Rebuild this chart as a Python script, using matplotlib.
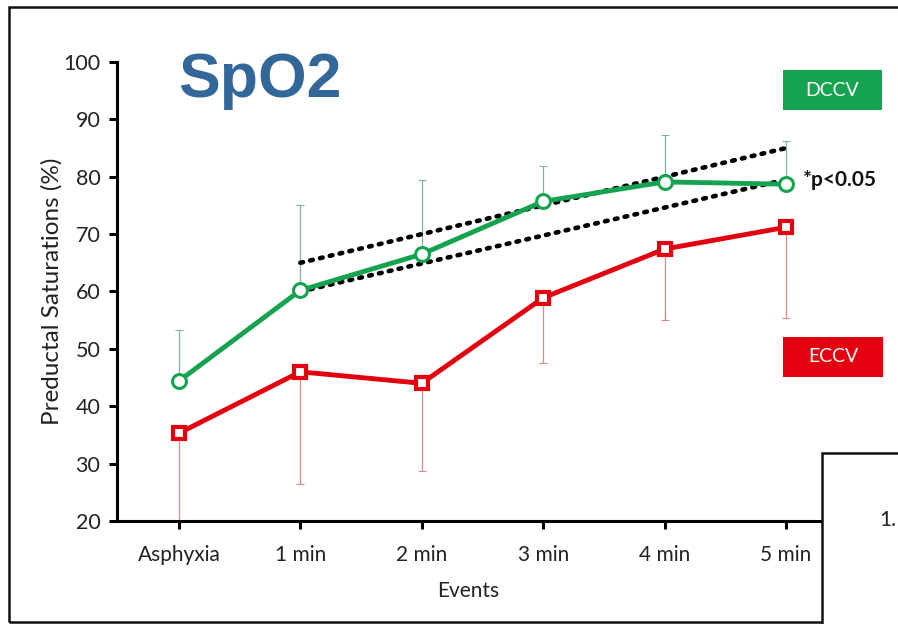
import matplotlib
matplotlib.use("Agg")
import matplotlib.pyplot as plt
from matplotlib.patches import Rectangle

# Events and mean preductal SpO2 (%) for each group
events = ["Asphyxia", "1 min", "2 min", "3 min", "4 min", "5 min"]
dccv_mean = [44.4, 60.2, 66.5, 75.7, 79.1, 78.7]
dccv_upper = [53.3, 75.0, 79.4, 81.8, 87.2, 86.2]
eccv_mean = [35.3, 46.0, 44.0, 58.9, 67.4, 71.2]
eccv_lower = [19.0, 26.4, 28.7, 47.5, 55.0, 55.4]

# Dotted envelope lines between 1 min and 5 min
trend_x = [1, 5]
trend_upper = [65.0, 85.0]
trend_lower = [60.0, 79.5]

green = "#16a34f"
red = "#e3000f"
font = ["Lato", "DejaVu Sans"]
txt = "#222222"

W, H = 898, 624
fig = plt.figure(figsize=(W / 100, H / 100), dpi=100)
fig.patch.set_facecolor("white")

ax_left, ax_right = 117, 820
ax_top, ax_bottom = 62, 521
ax = fig.add_axes([ax_left / W, 1 - ax_bottom / H,
                   (ax_right - ax_left) / W, (ax_bottom - ax_top) / H])

x = list(range(len(events)))

# error bars (one-sided)
dccv_err = [[0] * len(x), [u - m for u, m in zip(dccv_upper, dccv_mean)]]
eccv_err = [[m - l for m, l in zip(eccv_mean, eccv_lower)], [0] * len(x)]
ax.errorbar(x, dccv_mean, yerr=dccv_err, fmt="none", ecolor="#7fb59a",
            elinewidth=0.9, capsize=3, capthick=0.8, zorder=2)
ax.errorbar(x, eccv_mean, yerr=eccv_err, fmt="none", ecolor="#d98a8a",
            elinewidth=0.9, capsize=3, capthick=0.8, zorder=2)

# trend lines
ax.plot(trend_x, trend_upper, color="black", linestyle=(0, (0.6, 1.6)),
        linewidth=3.3, dash_capstyle="round", zorder=3)
ax.plot(trend_x, trend_lower, color="black", linestyle=(0, (0.6, 1.6)),
        linewidth=3.3, dash_capstyle="round", zorder=3)

# series
ax.plot(x, dccv_mean, color=green, linewidth=3.5, marker="o", markersize=10,
        markerfacecolor="white", markeredgecolor=green, markeredgewidth=2.2,
        zorder=4)
ax.plot(x, eccv_mean, color=red, linewidth=3.5, marker="s", markersize=9,
        markerfacecolor="white", markeredgecolor=red, markeredgewidth=3.0,
        zorder=4)

ax.set_xlim(-0.51, 5.28)
ax.set_ylim(20, 100)
ax.set_yticks(range(20, 101, 10))
ax.set_xticks(x)
ax.set_xticklabels(events, fontfamily=font, fontsize=15, color=txt)
for lab in ax.get_yticklabels():
    lab.set_fontfamily(font)
    lab.set_fontsize(15.5)
    lab.set_color(txt)

for s in ("top", "right"):
    ax.spines[s].set_visible(False)
for s in ("left", "bottom"):
    ax.spines[s].set_linewidth(2.2)
    ax.spines[s].set_color("black")
ax.tick_params(axis="both", direction="out", length=6, width=2.2, color="black")
ax.tick_params(axis="x", pad=11)
ax.tick_params(axis="y", pad=6)

ax.set_ylabel("Preductal Saturations (%)", fontfamily=font, fontsize=17.5,
              color=txt)
ax.yaxis.set_label_coords(-0.077, 0.5)
ax.set_xlabel("Events", fontfamily=font, fontsize=15, color=txt, labelpad=12)

ax.text(5.14, 79.4, "*p<0.05", fontfamily=font, fontsize=15,
        fontweight="bold", color="#111111", va="center", ha="left")

# title
fig.text(178 / W, 1 - 80 / H, "SpO2", fontfamily=["Liberation Sans", "DejaVu Sans"],
         fontsize=45, fontweight="bold", color="#336699", ha="left", va="center")

# group labels
def tag(x0, y0, x1, y1, text, color):
    fig.patches.append(Rectangle((x0 / W, 1 - y1 / H), (x1 - x0) / W, (y1 - y0) / H,
                                 transform=fig.transFigure, facecolor=color,
                                 edgecolor="none", zorder=5))
    fig.text((x0 + x1) / 2 / W, 1 - (y0 + y1) / 2 / H, text, fontfamily=font,
             fontsize=14, color="white", ha="center", va="center", zorder=6)

tag(783, 70, 882, 110, "DCCV", green)
tag(783, 337, 883, 377, "ECCV", red)

# outer frame
fig.patches.append(Rectangle((9 / W, 1 - 622 / H), (W + 20 - 9) / W, (622 - 7) / H,
                             transform=fig.transFigure, facecolor="none",
                             edgecolor="#111111", linewidth=1.8, zorder=7))

# adjacent panel corner
fig.patches.append(Rectangle((822 / W, 1 - (H + 20) / H), (W + 20 - 822) / W,
                             (H + 20 - 453) / H, transform=fig.transFigure,
                             facecolor="white", edgecolor="#111111", linewidth=1.8,
                             zorder=8))
fig.text(879 / W, 1 - 520 / H, "1.", fontfamily=font, fontsize=15,
         color=txt, ha="left", va="center", zorder=9)

fig.savefig("out.png", dpi=100)
